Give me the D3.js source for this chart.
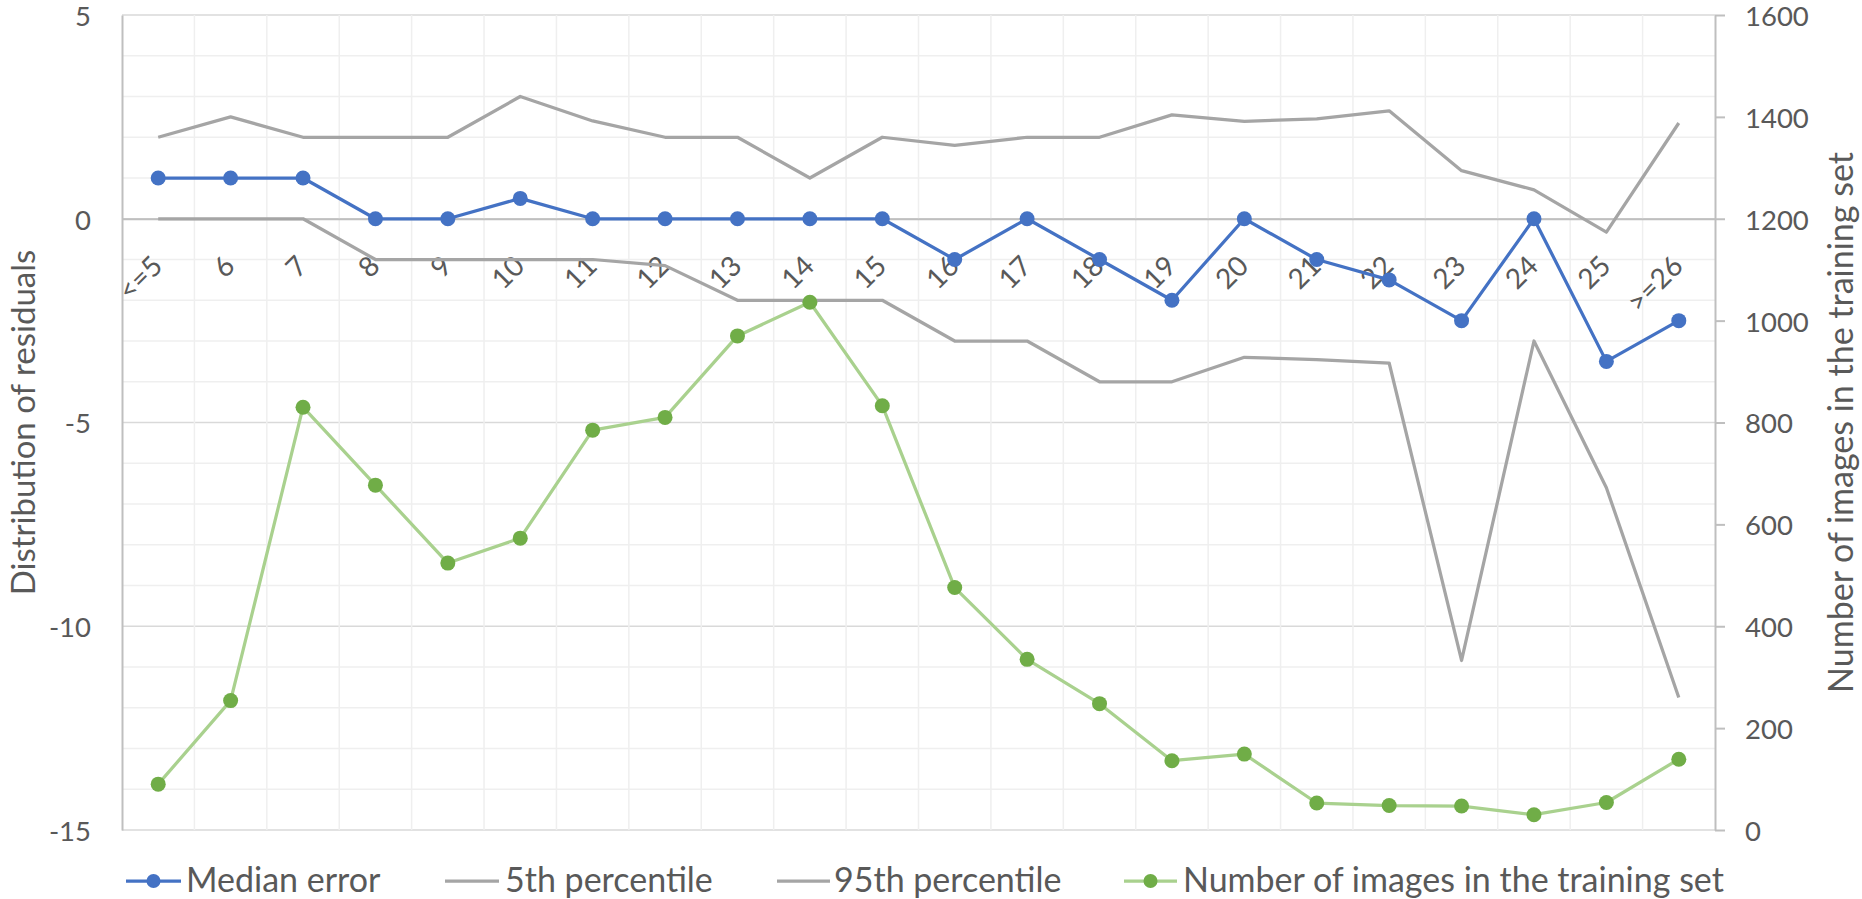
<!DOCTYPE html>
<html>
<head>
<meta charset="utf-8">
<script src="https://cdn.jsdelivr.net/npm/d3@7"></script>
<style>
  html, body { margin: 0; padding: 0; background: #ffffff; }
  svg { display: block; }
</style>
</head>
<body>
<svg id="chart" width="1862" height="899"></svg>
<script>
// ---------------- data ----------------
const categories = ["<=5","6","7","8","9","10","11","12","13","14","15","16","17","18","19","20","21","22","23","24","25",">=26"];
const medianError = [1, 1, 1, 0, 0, 0.5, 0, 0, 0, 0, 0, -1, 0, -1, -2, 0, -1, -1.5, -2.5, 0, -3.5, -2.5];
const percentile5 = [0, 0, 0, -1, -1, -1, -1, -1.15, -2, -2, -2, -3, -3, -4, -4, -3.4, -3.46, -3.54, -10.84, -3, -6.6, -11.75];
const percentile95 = [2, 2.5, 2, 2, 2, 3, 2.4, 2, 2, 1, 2, 1.8, 2, 2, 2.55, 2.39, 2.45, 2.65, 1.18, 0.71, -0.33, 2.35];
const numImages = [90, 254, 830, 677, 524, 573, 785, 810, 970, 1036, 833, 476, 335, 248, 136, 149, 53, 48, 47, 30, 54, 139];
const leftTicks = [5, 0, -5, -10, -15];
const rightTicks = [0, 200, 400, 600, 800, 1000, 1200, 1400, 1600];
const seriesNames = ["Median error", "5th percentile", "95th percentile", "Number of images in the training set"];
const leftTitle = "Distribution of residuals";
const rightTitle = "Number of images in the training set";

// ---------------- layout ----------------
const svg = d3.select("#chart");
const FONT = "Lato, 'Open Sans', sans-serif";
const TXT = "#595959";
const plotL = 122, plotR = 1715, plotT = 15, plotB = 830;

const x = d3.scaleBand().domain(categories).range([plotL, plotR]);
const yL = d3.scaleLinear().domain([-15, 5]).range([plotB, plotT]);
const yR = d3.scaleLinear().domain([0, 1600]).range([plotB, plotT]);
const cx = (i) => x(categories[i]) + x.bandwidth() / 2;

// ---------------- gridlines ----------------
const grid = svg.append("g");
grid.selectAll("line.hmin").data(d3.range(-15, 6)).join("line")
  .attr("x1", plotL).attr("x2", plotR)
  .attr("y1", d => yL(d)).attr("y2", d => yL(d))
  .attr("stroke", d => (d % 5 === 0) ? "#d9d9d9" : "#efefef")
  .attr("stroke-width", 1.5);
grid.selectAll("line.v").data(categories.slice(1)).join("line")
  .attr("x1", d => x(d)).attr("x2", d => x(d))
  .attr("y1", plotT).attr("y2", plotB)
  .attr("stroke", "#efefef").attr("stroke-width", 1.5);

// ---------------- axes ----------------
function styleAxis(g, size) {
  g.attr("font-family", FONT).attr("font-size", size);
  g.selectAll("text").attr("fill", TXT);
  g.selectAll("path.domain").attr("stroke", "#bfbfbf").attr("stroke-width", 2);
  g.selectAll(".tick line").attr("stroke", "#bfbfbf").attr("stroke-width", 2);
}

const axL = svg.append("g").attr("transform", `translate(${plotL},0)`)
  .call(d3.axisLeft(yL).tickValues(leftTicks).tickSize(0).tickSizeOuter(0).tickPadding(31).tickFormat(d3.format("d")));
styleAxis(axL, 27.5);
axL.selectAll("text").attr("dy", "0.38em").text(d => d < 0 ? "-" + Math.abs(d) : d);

const axR = svg.append("g").attr("transform", `translate(${plotR},0)`)
  .call(d3.axisRight(yR).tickValues(rightTicks).tickSize(10).tickSizeOuter(0).tickPadding(20).tickFormat(d3.format("d")));
styleAxis(axR, 27.5);
axR.selectAll("text").attr("dy", "0.38em");

const axX = svg.append("g").attr("transform", `translate(0,${yL(0)})`)
  .call(d3.axisBottom(x).tickSize(0).tickSizeOuter(0));
styleAxis(axX, 28);
axX.selectAll("text")
  .attr("x", 0).attr("y", 0).attr("dy", null)
  .attr("text-anchor", "end")
  .attr("transform", "translate(6,49) rotate(-45)");

// ---------------- series ----------------
const lineL = d3.line().x((d, i) => cx(i)).y(d => yL(d));
const lineR = d3.line().x((d, i) => cx(i)).y(d => yR(d));

const BLUE = "#4472c4", GRAY = "#a5a5a5", GREEN_L = "#a9d18e", GREEN = "#70ad47";

svg.append("path").datum(medianError).attr("d", lineL)
  .attr("fill", "none").attr("stroke", BLUE).attr("stroke-width", 3.25).attr("stroke-linejoin", "round");
svg.append("g").selectAll("circle").data(medianError).join("circle")
  .attr("cx", (d, i) => cx(i)).attr("cy", d => yL(d)).attr("r", 7.5).attr("fill", BLUE);

svg.append("path").datum(percentile5).attr("d", lineL)
  .attr("fill", "none").attr("stroke", GRAY).attr("stroke-width", 3.25).attr("stroke-linejoin", "round");
svg.append("path").datum(percentile95).attr("d", lineL)
  .attr("fill", "none").attr("stroke", GRAY).attr("stroke-width", 3.25).attr("stroke-linejoin", "round");

svg.append("path").datum(numImages).attr("d", lineR)
  .attr("fill", "none").attr("stroke", GREEN_L).attr("stroke-width", 3.25).attr("stroke-linejoin", "round");
svg.append("g").selectAll("circle").data(numImages).join("circle")
  .attr("cx", (d, i) => cx(i)).attr("cy", d => yR(d)).attr("r", 7.5).attr("fill", GREEN);

// ---------------- axis titles ----------------
svg.append("text")
  .attr("transform", `translate(35,${(plotT + plotB) / 2}) rotate(-90)`)
  .attr("text-anchor", "middle").attr("font-family", FONT).attr("font-size", 33)
  .attr("fill", TXT).text(leftTitle);
svg.append("text")
  .attr("transform", `translate(1853,${(plotT + plotB) / 2}) rotate(-90)`)
  .attr("text-anchor", "middle").attr("font-family", FONT).attr("font-size", 34)
  .attr("fill", TXT).text(rightTitle);

// ---------------- legend ----------------
const legendItems = [
  { name: seriesNames[0], line: BLUE, marker: BLUE, x0: 126, x1: 181, tx: 186 },
  { name: seriesNames[1], line: GRAY, marker: null, x0: 445, x1: 499, tx: 505 },
  { name: seriesNames[2], line: GRAY, marker: null, x0: 777, x1: 830, tx: 834 },
  { name: seriesNames[3], line: GREEN_L, marker: GREEN, x0: 1124, x1: 1177, tx: 1183 }
];
const lg = svg.append("g");
const ly = 881;
legendItems.forEach(it => {
  lg.append("line").attr("x1", it.x0).attr("x2", it.x1).attr("y1", ly).attr("y2", ly)
    .attr("stroke", it.line).attr("stroke-width", 3.25);
  if (it.marker) lg.append("circle").attr("cx", (it.x0 + it.x1) / 2).attr("cy", ly).attr("r", 7)
    .attr("fill", it.marker);
  lg.append("text").attr("x", it.tx).attr("y", 892).attr("font-family", FONT).attr("font-size", 34)
    .attr("fill", TXT).text(it.name);
});
</script>
</body>
</html>
